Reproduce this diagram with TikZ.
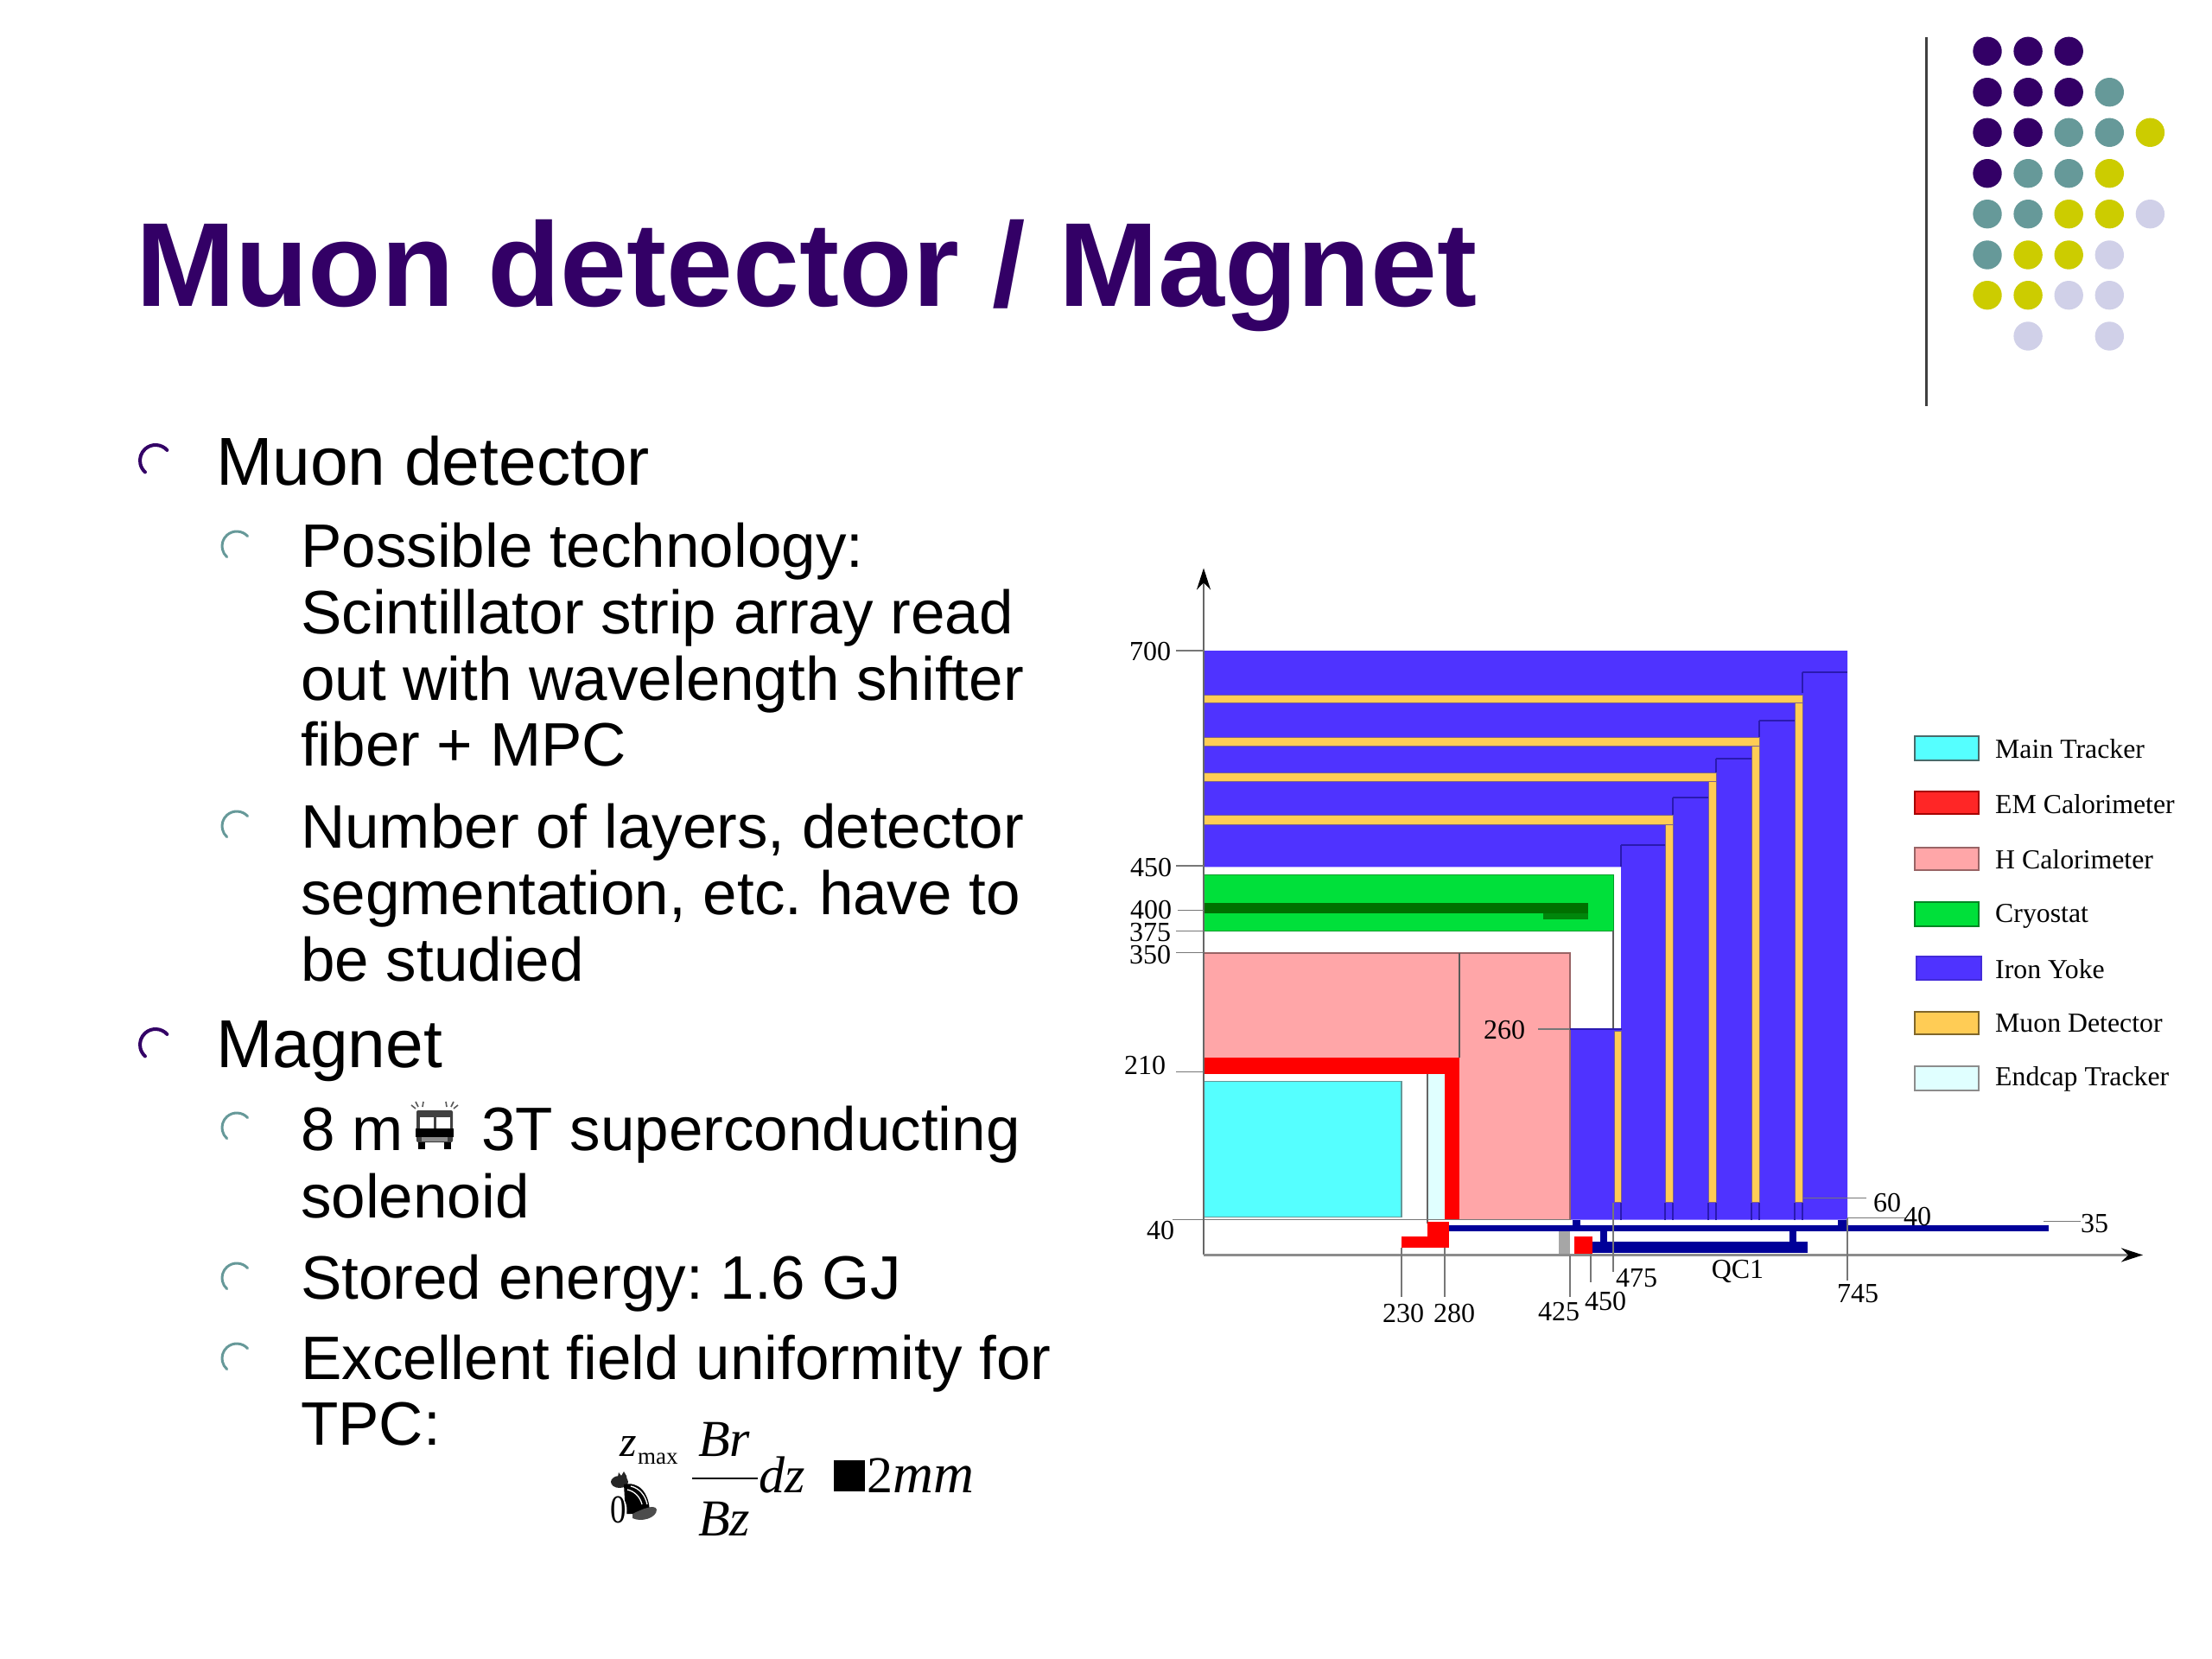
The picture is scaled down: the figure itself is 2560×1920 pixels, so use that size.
\documentclass[tikz,border=0pt]{standalone}
\usepackage{fontspec}
\setmainfont{Liberation Sans}
\newfontfamily\lserif{Liberation Serif}
\usetikzlibrary{arrows.meta}
\definecolor{purp}{HTML}{330066}
\definecolor{teal2}{HTML}{669999}
\definecolor{yel}{HTML}{CCCC00}
\definecolor{lav}{HTML}{D0D0E8}
\definecolor{yoke}{HTML}{4F33FF}
\definecolor{yokeline}{HTML}{2A1AB0}
\definecolor{muonc}{HTML}{FFCC55}
\definecolor{stripedge}{HTML}{7A6090}
\definecolor{cryo}{HTML}{00E03A}
\definecolor{dgreen}{HTML}{007000}
\definecolor{hcal}{HTML}{FFA6A8}
\definecolor{ecal}{HTML}{FF0000}
\definecolor{trk}{HTML}{55FFFF}
\definecolor{etrk}{HTML}{E0FFFF}
\definecolor{navy2}{HTML}{000099}
\definecolor{leadc}{HTML}{777777}
\tikzset{
  titletext/.style={anchor=base west,inner sep=0pt,text=purp,font=\fontsize{138.3}{139}\selectfont\bfseries},
  lone/.style={anchor=base west,inner sep=0pt,font=\fontsize{78.5}{78.5}\selectfont},
  ltwo/.style={anchor=base west,inner sep=0pt,font=\fontsize{71}{71}\selectfont},
  lab/.style={inner sep=0pt,font=\lserif\fontsize{32}{32}\selectfont},
  legt/.style={anchor=west,inner sep=0pt,font=\lserif\fontsize{31.8}{32}\selectfont},
  leg/.style={line width=1.6pt},
  leadline/.style={draw=leadc,line width=1.5pt},
  muon/.style={fill=muonc,draw=stripedge,line width=1pt},
  blockline/.style={draw=yokeline,line width=2pt},
  dotp/.style={fill=purp},dott/.style={fill=teal2},doty/.style={fill=yel},dotl/.style={fill=lav},
  fm/.style={inner sep=0pt,anchor=base west,font=\lserif\fontsize{60}{60}\selectfont\itshape},
  fr/.style={inner sep=0pt,anchor=base west,font=\lserif\fontsize{60}{60}\selectfont},
  bulA/.style={draw=purp,line width=4pt,line cap=round},
  bulB/.style={draw=teal2,line width=3pt,line cap=round},
}
\newcommand{\bulletA}[2]{\draw[bulA] ({#1+18*cos(42)},{#2-18*sin(42)}) arc[start angle=-42,end angle=-228,radius=18];}
\newcommand{\bulletB}[2]{\draw[bulB] ({#1+17*cos(42)},{#2-17*sin(42)}) arc[start angle=-42,end angle=-228,radius=17];}
\begin{document}
\begin{tikzpicture}[x=1pt,y=-1pt,execute at begin node=\frenchspacing]
\useasboundingbox (0,0) rectangle (2560,1920);
\fill[white] (0,0) rectangle (2560,1920);
% decoration
\draw[draw=black!75,line width=3pt] (2229,43) -- (2229,470);
\foreach \r/\y/\lst in {1/59.3/{1/p,2/p,3/p},2/106.7/{1/p,2/p,3/p,4/t},3/153.3/{1/p,2/p,3/t,4/t,5/y},4/200.7/{1/p,2/t,3/t,4/y},5/247.7/{1/t,2/t,3/y,4/y,5/l},6/295/{1/t,2/y,3/y,4/l},7/341.7/{1/y,2/y,3/l,4/l},8/389/{2/l,4/l}}{
  \foreach \c/\k in \lst {
    \pgfmathsetmacro{\xx}{2300+47.1*(\c-1)}
    \fill[dot\k] (\xx,\y) circle[radius=16.7];
  }
}
% title
\node[titletext] (title) at (157,354) {Muon detector / Magnet};
% text
\bulletA{180}{533}
\node[lone] (t1) at (250,561.5) {Muon detector};
\bulletB{274}{632}
\node[ltwo] (t2) at (348,656) {Possible technology:};
\node[ltwo] (t3) at (348,733) {Scintillator strip array read};
\node[ltwo] (t4) at (348,810.5) {out with wavelength shifter};
\node[ltwo] (t5) at (348,886.5) {fiber + MPC};
\bulletB{274}{956}
\node[ltwo] (t6) at (348,981.5) {Number of layers, detector};
\node[ltwo] (t7) at (348,1058.5) {segmentation, etc. have to};
\node[ltwo] (t8) at (348,1135.5) {be studied};
\bulletA{180}{1209}
\node[lone] (t9) at (250,1235.5) {Magnet};
\bulletB{274}{1305}
\node[ltwo] (t10) at (348,1331) {8 m};
\node[ltwo] (t11) at (557,1331) {3T superconducting};
\node[ltwo] (t12) at (348,1409.5) {solenoid};
\bulletB{274}{1479}
\node[ltwo] (t13) at (348,1503) {Stored energy: 1.6 GJ};
\bulletB{274}{1572}
\node[ltwo] (t14) at (348,1596.5) {Excellent field uniformity for};
\node[ltwo] (t15) at (348,1672) {TPC:};
% fire engine glyph
\fill[black!75,rounded corners=2pt] (482,1285) rectangle (524,1322);
\fill[white] (486,1293) rectangle (501.5,1306);
\fill[white] (505,1293) rectangle (520.5,1306);
\fill[black] (481,1306) rectangle (525,1316);
\fill[black!45] (488,1316) rectangle (518,1321);
\fill[black] (484,1322) rectangle (492,1330);
\fill[black] (514,1322) rectangle (522,1330);
\draw[black!65,line width=1.6pt] (481,1283)--(476,1279) (484,1281)--(481,1275) (489,1281)--(490,1275) (525,1283)--(530,1279) (522,1281)--(525,1275) (517,1281)--(516,1275);
% formula
\node[fm] (fz) at (717,1685) {\fontsize{50}{50}\selectfont z};
\node[inner sep=0pt,anchor=base west,font=\lserif\fontsize{27}{27}\selectfont] (fmax) at (738,1694) {max};
\node[fm] (fbr) at (808,1685) {Br};
\draw[black,line width=2.5pt] (801,1711) -- (877,1711);
\node[fm] (fbz) at (808,1777) {Bz};
\node[fm] (fdz) at (878,1727) {dz};
\fill[black] (965,1690) rectangle (1001,1726);
\node[fr] (f2) at (1003,1727) {2};
\node[inner sep=0pt,anchor=base west,font=\lserif\fontsize{65}{65}\selectfont\itshape] (fmm) at (1033,1727) {mm};
% integral glyph as printed
\fill[black!85] (717,1715) ellipse[x radius=10,y radius=7];
\fill[black!85] (716,1704) -- (719,1708) -- (722,1703) -- (725,1708) -- (726,1714) -- (714,1714) -- cycle;
\fill[black] (722,1718) .. controls (738,1714) and (752,1726) .. (752,1752) -- (724,1752) -- cycle;
\draw[white,line width=1.3pt] (730,1720) .. controls (740,1722) and (747,1731) .. (749,1741);
\draw[white,line width=1.3pt] (726,1724) .. controls (735,1726) and (741,1733) .. (743,1741);
\fill[black!70] (732,1752) .. controls (742,1747) and (758,1740) .. (760,1747) .. controls (760,1757) and (742,1762) .. (732,1757) -- cycle;
\fill[white] (715.5,1748) ellipse[x radius=10,y radius=17];
\node[inner sep=0pt,font=\lserif\fontsize{46}{46}\selectfont,xscale=.8] (f0) at (715.5,1747) {0};
% ---- detector diagram ----
\begin{scope}[shift={(0,0.8)},yscale=0.995]
\fill[yoke] (1393,756) -- (2138,756) -- (2138,1418) -- (1817,1418) -- (1817,1196) -- (1876,1196) -- (1876,1007.5) -- (1393,1007.5) -- cycle;
% block tops
\draw[blockline] (2086,781) -- (2138,781);
\draw[blockline] (2036,837) -- (2077,837);
\draw[blockline] (1986,882) -- (2027,882);
\draw[blockline] (1936,927) -- (1977,927);
\draw[blockline] (1876,982) -- (1927,982);
\draw[draw=yokeline,line width=1.5pt] (2086,781) -- (2086,805) (2036,837) -- (2036,857) (1986,882) -- (1986,898) (1936,927) -- (1936,947) (1876,982) -- (1876,1007);
% muon detector strips, vertical
\fill[muon] (2077,808) rectangle (2086,1398);
\fill[muon] (2027,857) rectangle (2036,1398);
\fill[muon] (1977,898) rectangle (1986,1398);
\fill[muon] (1927,947) rectangle (1936,1398);
\fill[muon] (1868,1199) rectangle (1876,1398);
% horizontal
\fill[muon] (1393,808) rectangle (2086,817);
\fill[muon] (1393,857) rectangle (2036,867);
\fill[muon] (1393,898) rectangle (1986,908);
\fill[muon] (1393,947) rectangle (1936,958);
% strip tails
\draw[draw=yokeline,line width=1.2pt] (2077,1398)--(2077,1418) (2086,1398)--(2086,1418) (2027,1398)--(2027,1418) (2036,1398)--(2036,1418) (1977,1398)--(1977,1418) (1986,1398)--(1986,1418) (1927,1398)--(1927,1418) (1936,1398)--(1936,1418) (1876,1398)--(1876,1418);
% cryostat
\fill[cryo,draw=cryo!70!black,line width=1pt] (1393,1017) rectangle (1867,1082);
\fill[dgreen] (1393,1049.5) rectangle (1838,1062);
\fill[dgreen!80!cryo] (1786,1062) rectangle (1838,1068.5);
\draw[draw=black!65,line width=1.2pt] (1867,1082) -- (1867,1196);
% H calorimeter
\fill[hcal] (1393,1107.5) rectangle (1689,1229);
\fill[hcal] (1689,1107.5) rectangle (1817,1418);
\draw[draw=hcal!60!black,line width=1.5pt] (1393,1107.5) -- (1817,1107.5) -- (1817,1418);
\draw[draw=black!65,line width=1.2pt] (1689,1107.5) -- (1689,1229);
% EM calorimeter
\fill[ecal] (1393,1229) rectangle (1689,1248);
\fill[ecal] (1672,1248) rectangle (1689,1418);
% endcap tracker
\fill[etrk] (1652,1248) rectangle (1672,1418);
\draw[draw=black!60,line width=1.2pt] (1652,1248) -- (1652,1422);
% main tracker
\fill[trk,draw=teal2,line width=1.5pt] (1393,1257) rectangle (1622,1415);
% line at 40
\draw[leadline] (1357,1418) -- (1817,1418);
% beam elements
\fill[navy2] (1677,1424) rectangle (2371,1431);
\fill[navy2] (1820,1418) rectangle (1829,1424);
\fill[navy2] (2127,1418) rectangle (2138,1424);
\fill[navy2] (1852,1431) rectangle (1860,1444);
\fill[navy2] (2071,1431) rectangle (2079,1444);
\fill[black!35] (1804,1431) rectangle (1817,1459);
\fill[ecal] (1622,1437) rectangle (1652,1450);
\fill[ecal] (1652,1420) rectangle (1677,1450);
\fill[ecal] (1822,1437) rectangle (1842.5,1457);
\fill[navy2] (1842.5,1443.5) rectangle (2092,1456);
\draw[draw=yokeline,line width=2pt] (1817,1196) -- (1877,1196);
% axes
\coordinate (orig) at (1393,1459);
\coordinate (ytip) at (1393,660);
\coordinate (xtip) at (2480,1459);
\draw[draw=black!60,line width=2pt,-{Stealth[length=25pt,width=16pt,color=black]}] (orig) -- (ytip);
\draw[draw=black!45,line width=3pt,-{Stealth[length=25pt,width=16pt,color=black]}] (orig) -- (xtip);
% leaders
\draw[leadline] (1361,756) -- (1393,756);
\draw[leadline] (1361,1006) -- (1393,1006);
\draw[leadline] (1363,1058) -- (1393,1058);
\draw[leadline] (1361,1082) -- (1393,1082);
\draw[leadline] (1361,1107) -- (1393,1107);
\draw[leadline] (1361,1246) -- (1393,1246);
\draw[leadline] (1780,1196) -- (1817,1196);
\draw[leadline] (2087,1392.5) -- (2160,1392.5);
\draw[leadline] (2138,1416) -- (2206,1416);
\draw[leadline] (2365,1420) -- (2408,1420);
\draw[leadline] (1622,1450) -- (1622,1508);
\draw[leadline] (1672,1450) -- (1672,1508);
\draw[leadline] (1817,1459) -- (1817,1508);
\draw[leadline] (1841,1457) -- (1841,1491);
\draw[leadline] (1867,1398) -- (1867,1479);
\draw[leadline] (2138,1416) -- (2138,1489);
% labels
\node[lab] (l700) at (1331,757) {700};
\node[lab] (l450) at (1332,1008) {450};
\node[lab] (l400) at (1332,1057) {400};
\node[lab] (l375) at (1331,1084) {375};
\node[lab] (l350) at (1331,1110) {350};
\node[lab] (l210) at (1325,1238) {210};
\node[lab] (l40a) at (1343,1430) {40};
\node[lab] (l260) at (1741,1197) {260};
\node[lab] (l60) at (2184,1398) {60};
\node[lab] (l40b) at (2219,1414) {40};
\node[lab] (l35) at (2424,1422) {35};
\node[lab] (l230) at (1624,1527) {230};
\node[lab] (l280) at (1683,1527) {280};
\node[lab] (l425) at (1804,1525) {425};
\node[lab] (l450b) at (1858,1513) {450};
\node[lab] (l475) at (1894,1486) {475};
\node[lab] (lqc) at (2011,1478) {QC1};
\node[lab] (l745) at (2150,1504) {745};
\end{scope}
% legend
\fill[trk,leg,draw=teal2!70!black] (2216,852) rectangle (2290,880);
\node[legt] (g1) at (2309,867) {Main Tracker};
\fill[ecal!85!white,leg,draw=ecal!65!black] (2216,916) rectangle (2290,942);
\node[legt] (g2) at (2309,931) {EM Calorimeter};
\fill[hcal,leg,draw=hcal!60!black] (2216,981) rectangle (2290,1007);
\node[legt] (g3) at (2309,995) {H Calorimeter};
\fill[cryo,leg,draw=cryo!60!black] (2216,1044) rectangle (2290,1072);
\node[legt] (g4) at (2309,1060) {Cryostat};
\fill[yoke,leg,draw=yoke!85!black] (2218,1107) rectangle (2293,1134);
\node[legt] (g5) at (2309,1122) {Iron Yoke};
\fill[muonc,leg,draw=muonc!50!black] (2216,1171) rectangle (2290,1197);
\node[legt] (g6) at (2309,1184) {Muon Detector};
\fill[etrk,leg,draw=black!45] (2216,1234) rectangle (2290,1262);
\node[legt] (g7) at (2309,1249) {Endcap Tracker};
\end{tikzpicture}
\end{document}
